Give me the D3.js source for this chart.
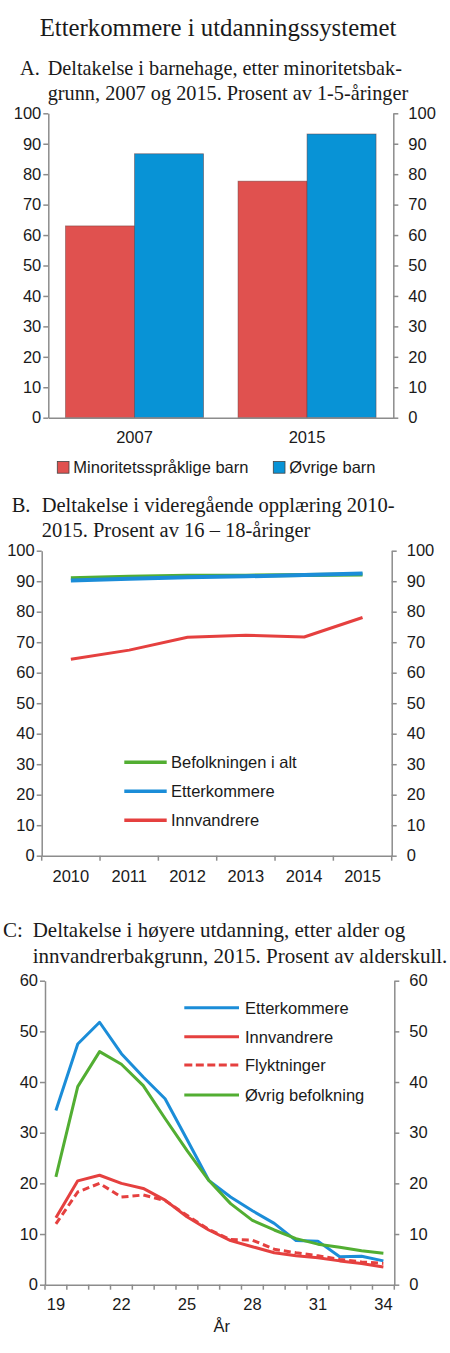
<!DOCTYPE html>
<html><head><meta charset="utf-8">
<script src="https://cdn.jsdelivr.net/npm/d3@7/dist/d3.min.js"></script>
<style>
body{margin:0;background:#fff;}
svg text{font-family:"Liberation Sans",Arial,sans-serif;fill:#1a1a1a;}
.serif{font-family:"Liberation Serif","Times New Roman",serif !important;}
</style></head>
<body><svg id="c" width="450" height="1353"></svg>
<script>
// ---- Panel A data ----
const aYears = ["2007", "2015"];
const aSeries = ["Minoritetsspråklige barn", "Øvrige barn"];
const aMinoritet = [63.0, 77.7];
const aOvrige = [86.7, 93.2];
const aTicks = [0,10,20,30,40,50,60,70,80,90,100];

// ---- Panel B data ----
const bYears = ["2010","2011","2012","2013","2014","2015"];
const bBefolkning = [91.0, 91.5, 91.8, 91.8, 92.0, 92.2];
const bEtterkommere = [90.2, 90.8, 91.3, 91.6, 92.0, 92.5];
const bInnvandrere = [64.4, 67.4, 71.6, 72.3, 71.7, 78.1];
const bTicks = [0,10,20,30,40,50,60,70,80,90,100];

// ---- Panel C data ----
const cAges = [19,20,21,22,23,24,25,26,27,28,29,30,31,32,33,34];
const cAgeLabels = [19,22,25,28,31,34];
const cEtterkommere = [34.4, 47.5, 51.8, 45.6, 41.0, 36.7, 28.7, 20.6, 17.3, 14.6, 12.1, 8.7, 8.6, 5.5, 5.6, 4.7];
const cInnvandrere = [13.2, 20.5, 21.6, 20.0, 19.0, 16.7, 13.4, 10.8, 8.7, 7.5, 6.3, 5.7, 5.3, 4.7, 4.2, 3.5];
const cFlyktninger = [12.0, 18.3, 20.0, 17.3, 17.7, 16.6, 13.7, 10.9, 8.9, 8.8, 7.0, 6.3, 5.7, 5.0, 4.5, 4.2];
const cOvrig = [21.3, 39.1, 46.0, 43.5, 39.3, 32.8, 26.5, 20.6, 16.0, 12.7, 10.8, 9.1, 8.0, 7.4, 6.7, 6.2];
const cTicks = [0,10,20,30,40,50,60];

const RED = "#E0514F", BLUE = "#0893D6";
const LRED = "#E5403F", LBLUE = "#1B8DD8", LGREEN = "#52AE32";
const AX = "#8C8C8C";

const svg = d3.select("#c");

// Titles
svg.append("text").attr("class","serif").attr("x",218).attr("y",36)
  .attr("text-anchor","middle").style("font-size","24.8px").text("Etterkommere i utdanningssystemet");

function subtitle(lbl, lx, tx, lines, ys, fs){
  svg.append("text").attr("class","serif").attr("x",lx).attr("y",ys[0]).style("font-size",fs+"px").text(lbl);
  lines.forEach((t,i)=>svg.append("text").attr("class","serif").attr("x",tx).attr("y",ys[i]).style("font-size",fs+"px").text(t));
}
subtitle("A.", 20, 47.7, ["Deltakelse i barnehage, etter minoritetsbak-","grunn, 2007 og 2015. Prosent av 1-5-åringer"], [75,100], 20.3);
subtitle("B.", 11.7, 41.7, ["Deltakelse i videregående opplæring 2010-","2015. Prosent av 16 – 18-åringer"], [511.5,537.3], 20.5);
subtitle("C:", 3, 32.7, ["Deltakelse i høyere utdanning, etter alder og","innvandrerbakgrunn, 2015. Prosent av alderskull."], [936.7,963.3], 21);

function yAxes(y, x0, x1, ticks){
  const gl = svg.append("g").attr("transform",`translate(${x0},0)`)
    .call(d3.axisLeft(y).tickValues(ticks).tickSize(5).tickSizeOuter(0).tickPadding(2));
  const gr = svg.append("g").attr("transform",`translate(${x1},0)`)
    .call(d3.axisRight(y).tickValues(ticks).tickSize(5).tickSizeOuter(0).tickPadding(10));
  [gl,gr].forEach(g=>{
    g.selectAll("path,line").attr("stroke",AX).attr("stroke-width",1.5);
    g.selectAll("text").style("font-size","16.5px").attr("fill","#1a1a1a");
  });
}
function xAxis(x, yPos, pad, tickVals){
  const ax = d3.axisBottom(x).tickSize(0).tickSizeOuter(0).tickPadding(pad);
  if (tickVals) ax.tickValues(tickVals);
  const g = svg.append("g").attr("transform",`translate(0,${yPos})`).call(ax);
  g.select("path").attr("stroke",AX).attr("stroke-width",1.5);
  g.selectAll("text").style("font-size","16.5px").attr("fill","#1a1a1a");
  return g;
}
function boundaryTicks(x, yPos){
  const bounds = x.domain().map(d=>x(d)).concat([x.range()[1]]);
  svg.append("g").selectAll("line").data(bounds).join("line")
    .attr("x1",d=>d).attr("x2",d=>d).attr("y1",yPos).attr("y2",yPos+5)
    .attr("stroke",AX).attr("stroke-width",1.5);
}

// ---------- Panel A ----------
{
  const x0 = 48.3, x1 = 393.3;
  const y = d3.scaleLinear().domain([0,100]).range([417.7,113.3]);
  const x = d3.scaleBand().domain(aYears).range([x0,x1]).paddingInner(0.2).paddingOuter(0.1);
  const xs = d3.scaleBand().domain(aSeries).range([0,x.bandwidth()]);
  const rows = aYears.map((yr,i)=>({yr, vals:[aMinoritet[i], aOvrige[i]]}));
  const cols = [RED, BLUE];
  const g = svg.append("g");
  rows.forEach(r=>{
    g.selectAll(null).data(r.vals).join("rect")
      .attr("x",(d,j)=>x(r.yr)+xs(aSeries[j]))
      .attr("width",xs.bandwidth())
      .attr("y",d=>y(d)).attr("height",d=>y(0)-y(d))
      .attr("fill",(d,j)=>cols[j]).attr("stroke","#6a3a3a").attr("stroke-opacity",0.6).attr("stroke-width",0.8);
  });
  yAxes(y, x0, x1, aTicks);
  xAxis(x, 417.7, 14);
  // legend
  const lg = svg.append("g");
  const lx = [57.3, 273.3];
  aSeries.forEach((s,j)=>{
    lg.append("rect").attr("x",lx[j]).attr("y",461.5).attr("width",11.7).attr("height",11.7)
      .attr("fill",cols[j]).attr("stroke","#444").attr("stroke-width",0.8);
    lg.append("text").attr("x",lx[j]+16).attr("y",473.3).style("font-size","16.5px").text(s);
  });
}

// ---------- Panel B ----------
{
  const x0 = 41.7, x1 = 391.7;
  const y = d3.scaleLinear().domain([0,100]).range([855.7,550.7]);
  const x = d3.scaleBand().domain(bYears).range([x0,x1]);
  const line = d3.line().x((d,i)=>x(bYears[i])+x.bandwidth()/2).y(d=>y(d));
  yAxes(y, x0, x1, bTicks);
  xAxis(x, 855.7, 14.6);
  boundaryTicks(x, 855.7);
  const series = [
    {name:"Befolkningen i alt", v:bBefolkning, c:LGREEN, w:4},
    {name:"Etterkommere", v:bEtterkommere, c:LBLUE, w:4},
    {name:"Innvandrere", v:bInnvandrere, c:LRED, w:3}
  ];
  series.forEach(s=>svg.append("path").datum(s.v).attr("d",line)
    .attr("fill","none").attr("stroke",s.c).attr("stroke-width",s.w).attr("stroke-linejoin","round"));
  const ly = [762.3, 791.3, 820.3];
  series.forEach((s,i)=>{
    svg.append("line").attr("x1",124.3).attr("x2",166.7).attr("y1",ly[i]).attr("y2",ly[i])
      .attr("stroke",s.c).attr("stroke-width",3.5);
    svg.append("text").attr("x",171).attr("y",ly[i]+6).style("font-size","16.5px").text(s.name);
  });
}

// ---------- Panel C ----------
{
  const x0 = 45, x1 = 394.3;
  const y = d3.scaleLinear().domain([0,60]).range([1284.7,980.7]);
  const x = d3.scaleBand().domain(cAges).range([x0,x1]);
  const line = d3.line().x((d,i)=>x(cAges[i])+x.bandwidth()/2).y(d=>y(d));
  yAxes(y, x0, x1, cTicks);
  xAxis(x, 1284.7, 14, cAgeLabels);
  boundaryTicks(x, 1284.7);
  svg.append("text").attr("x",221.7).attr("y",1331.7).attr("text-anchor","middle")
    .style("font-size","16.5px").text("År");
  const series = [
    {name:"Etterkommere", v:cEtterkommere, c:LBLUE, dash:null},
    {name:"Innvandrere", v:cInnvandrere, c:LRED, dash:null},
    {name:"Flyktninger", v:cFlyktninger, c:LRED, dash:"7,4"},
    {name:"Øvrig befolkning", v:cOvrig, c:LGREEN, dash:null}
  ];
  series.forEach(s=>svg.append("path").datum(s.v).attr("d",line)
    .attr("fill","none").attr("stroke",s.c).attr("stroke-width",3)
    .attr("stroke-dasharray",s.dash).attr("stroke-linejoin","round"));
  const ly = [1007.7, 1036.7, 1065, 1095];
  series.forEach((s,i)=>{
    svg.append("line").attr("x1",184.3).attr("x2",239).attr("y1",ly[i]).attr("y2",ly[i])
      .attr("stroke",s.c).attr("stroke-width",3).attr("stroke-dasharray",s.dash ? "8,3.5" : null);
    svg.append("text").attr("x",245).attr("y",ly[i]+6).style("font-size","16.5px").text(s.name);
  });
}
</script></body></html>
